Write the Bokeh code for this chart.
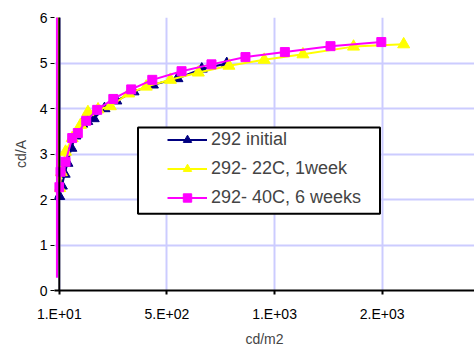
from bokeh.plotting import figure
from bokeh.models import (Range1d, FixedTicker, Span, BoxAnnotation, Legend,
                          LegendItem)
from bokeh.embed import file_html
from bokeh.resources import INLINE

# ---------------- data ----------------
series_names = ["292 initial", "292- 22C, 1week", "292- 40C, 6 weeks"]

# off-chart start of each trace (very low luminance -> huge efficiency)
initial_lead_x = [9]
initial_lead_y = [300]
initial_x = [10, 22, 35, 48, 66, 85, 116, 140, 170, 220, 275, 355, 445, 559, 672, 788]
initial_y = [2.07, 2.3, 2.56, 2.8, 3.13, 3.4, 3.66, 3.72, 3.78, 4.0, 4.17, 4.37,
             4.52, 4.66, 4.87, 4.99]

week1_lead_x = [4.5, 5]
week1_lead_y = [300, 2.5]
week1_x = [12, 20, 39, 70, 109, 143, 190, 247, 332, 414, 526, 656, 798, 962,
           1142, 1377, 1610]
week1_y = [2.25, 2.6, 3.05, 3.35, 3.64, 3.92, 3.98, 4.05, 4.33, 4.48, 4.63,
           4.79, 4.94, 5.07, 5.19, 5.36, 5.41]

week6_lead_x = [-1.5, -1]
week6_lead_y = [300, 0.28]
week6_x = [9, 16, 39, 70, 96, 135, 186, 261, 344, 442, 578, 717, 875, 1058,
           1270, 1506]
week6_y = [2.27, 2.61, 2.83, 3.35, 3.46, 3.73, 3.97, 4.21, 4.42, 4.63, 4.82,
           4.97, 5.13, 5.24, 5.37, 5.46]

x_ticks = [10, 510, 1010, 1510]
y_ticks = [0, 1, 2, 3, 4, 5, 6]
x_tick_labels = {v: f"{v:#.0E}" for v in x_ticks}   # 1.E+01, 5.E+02 ...
x_title = "cd/m2"
y_title = "cd/A"

# ---------------- layout ----------------
FONT = "Liberation Sans"
X0, X1 = -12.3, 1939
BL, BT, BB = 54, 17, 58
W, H = 474, 349
fw, fh = W - BL, H - BT - BB


def px_to_x(px):
    return X0 + (px - BL) * (X1 - X0) / fw


def px_to_y(py):
    return 6 - (py - BT) * 6 / fh


p = figure(width=W, height=H, output_backend="svg", toolbar_location=None,
           x_range=Range1d(X0, X1), y_range=Range1d(0, 6),
           min_border_left=BL, min_border_right=0, min_border_top=BT,
           min_border_bottom=BB)
p.outline_line_color = None
p.background_fill_color = "white"
p.border_fill_color = "white"

# grid
p.xgrid.ticker = FixedTicker(ticks=x_ticks)
p.ygrid.ticker = FixedTicker(ticks=y_ticks)
for g in (p.xgrid, p.ygrid):
    g.grid_line_color = "#ccccff"
    g.grid_line_width = 2

# x axis
xa = p.xaxis[0]
xa.ticker = FixedTicker(ticks=x_ticks)
xa.major_label_overrides = x_tick_labels
xa.axis_line_color = "black"
xa.axis_line_width = 2
xa.major_tick_in = 0
xa.major_tick_out = 4
xa.major_tick_line_width = 2
xa.minor_tick_line_color = None
xa.major_label_text_font = FONT
xa.major_label_text_font_size = "14px"
xa.major_label_text_color = "black"
xa.major_label_standoff = 11
xa.axis_label = x_title
xa.axis_label_text_font = FONT
xa.axis_label_text_font_size = "14px"
xa.axis_label_text_font_style = "normal"
xa.axis_label_standoff = 6

# y axis (line drawn as a span at x = 10)
ya = p.yaxis[0]
ya.ticker = FixedTicker(ticks=y_ticks)
ya.axis_line_color = None
ya.major_tick_in = 0
ya.major_tick_out = 4
ya.major_tick_line_width = 1
ya.minor_tick_line_color = None
ya.major_label_text_font = FONT
ya.major_label_text_font_size = "14px"
ya.major_label_text_color = "black"
ya.major_label_standoff = 3
ya.axis_label = y_title
ya.axis_label_text_font = FONT
ya.axis_label_text_font_size = "14px"
ya.axis_label_text_font_style = "normal"
ya.axis_label_standoff = 8

# series
specs = [
    (initial_lead_x + initial_x, initial_lead_y + initial_y, initial_x, initial_y,
     "#000080", "triangle", 11),
    (week1_lead_x + week1_x, week1_lead_y + week1_y, week1_x, week1_y,
     "#ffff00", "triangle", 12),
    (week6_lead_x + week6_x, week6_lead_y + week6_y, week6_x, week6_y,
     "#ff00ff", "square", 9),
]
items = []
for name, (lx, ly, mx, my, col, mk, sz) in zip(series_names, specs):
    lr = p.line(lx, ly, line_color=col, line_width=2)
    sr = p.scatter(mx, my, marker=mk, size=sz, fill_color=col, line_color=col)
    items.append(LegendItem(label=name, renderers=[lr, sr]))

# y axis line at x = 10
p.add_layout(Span(location=x_ticks[0], dimension="height", line_color="black",
                  line_width=2))

# legend frame
p.add_layout(BoxAnnotation(left=px_to_x(137.5), right=px_to_x(379.5),
                           top=px_to_y(127.5), bottom=px_to_y(214),
                           fill_color="white", fill_alpha=1,
                           line_color="black", line_width=2, line_alpha=1))

legend = Legend(items=items, location=(113, 82), padding=0, margin=0,
                spacing=8, glyph_width=40, glyph_height=21, label_height=21,
                label_standoff=4, label_text_font=FONT,
                label_text_font_size="18px", background_fill_alpha=0,
                border_line_color=None)
p.add_layout(legend)

open("out.html", "w").write(file_html(p, INLINE))
